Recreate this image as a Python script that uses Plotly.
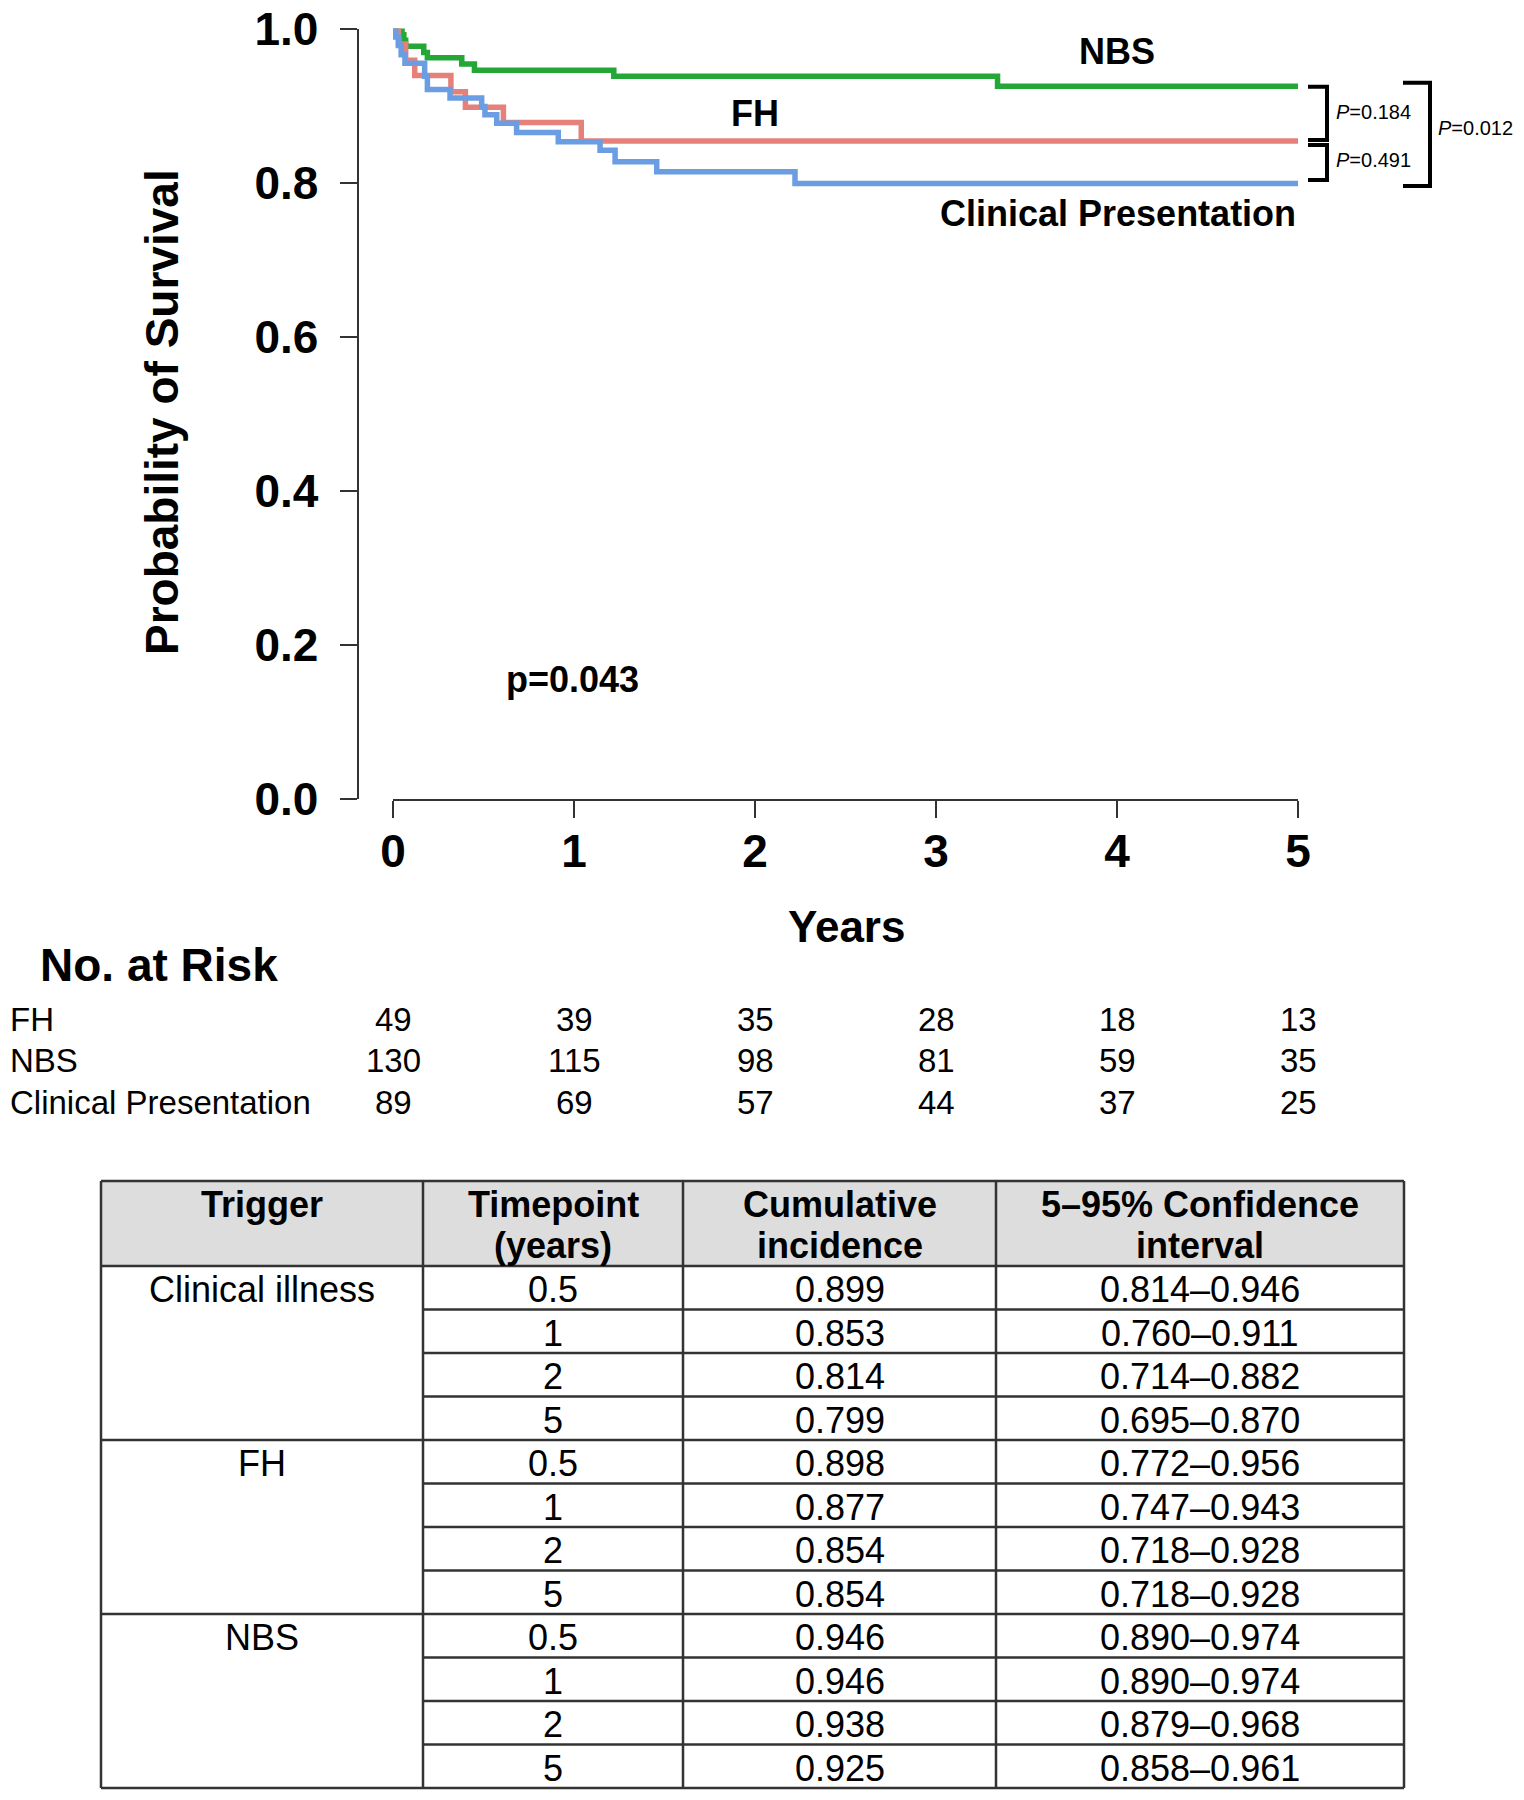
import plotly.graph_objects as go

W, H = 1524, 1800
FONT = "Liberation Sans, Arial, Helvetica, sans-serif"

# ---------------- Kaplan-Meier step data ----------------
nbs_t = [0, 0.05, 0.06, 0.07, 0.17, 0.19, 0.38, 0.45, 1.22, 3.34, 5.0]
nbs_s = [1.0, 0.992, 0.985, 0.977, 0.969, 0.962, 0.954, 0.946, 0.938, 0.925, 0.925]

fh_t = [0, 0.03, 0.07, 0.12, 0.32, 0.40, 0.61, 1.04, 5.0]
fh_s = [1.0, 0.980, 0.959, 0.939, 0.918, 0.898, 0.878, 0.854, 0.854]

cp_t = [0, 0.015, 0.03, 0.045, 0.066, 0.175, 0.19, 0.315, 0.49, 0.508, 0.573,
        0.683, 0.913, 1.144, 1.227, 1.457, 2.221, 5.0]
cp_s = [1.0, 0.989, 0.978, 0.966, 0.955, 0.938, 0.921, 0.910, 0.899, 0.888, 0.877,
        0.865, 0.853, 0.842, 0.827, 0.814, 0.799, 0.799]

x_ticks = [0, 1, 2, 3, 4, 5]
y_ticks = [0.0, 0.2, 0.4, 0.6, 0.8, 1.0]
y_tick_labels = ["0.0", "0.2", "0.4", "0.6", "0.8", "1.0"]

# ---------------- Numbers at risk ----------------
risk_groups = ["FH", "NBS", "Clinical Presentation"]
risk_fh = [49, 39, 35, 28, 18, 13]
risk_nbs = [130, 115, 98, 81, 59, 35]
risk_cp = [89, 69, 57, 44, 37, 25]

# ---------------- Summary table ----------------
tbl_header1 = ["Trigger", "Timepoint", "Cumulative", "5\u201395% Confidence"]
tbl_header2 = ["", "(years)", "incidence", "interval"]
tbl_triggers = ["Clinical illness", "FH", "NBS"]
tbl_timepoints = ["0.5", "1", "2", "5"]
tbl_incidence = ["0.899", "0.853", "0.814", "0.799",
                 "0.898", "0.877", "0.854", "0.854",
                 "0.946", "0.946", "0.938", "0.925"]
tbl_ci = ["0.814\u20130.946", "0.760\u20130.911", "0.714\u20130.882", "0.695\u20130.870",
          "0.772\u20130.956", "0.747\u20130.943", "0.718\u20130.928", "0.718\u20130.928",
          "0.890\u20130.974", "0.890\u20130.974", "0.879\u20130.968", "0.858\u20130.961"]

GREEN = "#25a737"
RED = "#e5817a"
BLUE = "#6b9de2"


def px(x):
    return x / W


def py(y):
    return 1 - y / H


# plot geometry in pixels
X0, X5 = 393, 1298
Y1, Y0 = 28.6, 798.8
YAXIS_X = 357.6

fig = go.Figure()
for t, s, c, name in [(nbs_t, nbs_s, GREEN, "NBS"), (fh_t, fh_s, RED, "FH"),
                      (cp_t, cp_s, BLUE, "Clinical Presentation")]:
    fig.add_trace(go.Scatter(x=t, y=s, mode="lines", line=dict(color=c, width=5.5, shape="hv"),
                             name=name, showlegend=False, cliponaxis=False))

ann = []
# curve labels
lab_font = dict(family=FONT, size=36, color="black", weight="bold")
ann.append(dict(x=4.0, y=0.970, xref="x", yref="y", text="NBS", font=lab_font))
ann.append(dict(x=2.0, y=0.890, xref="x", yref="y", text="FH", font=lab_font))
ann.append(dict(x=5.0, y=0.7605, xref="x", yref="y", text="Clinical Presentation", xanchor="right",
                font=lab_font))
ann.append(dict(x=0.994, y=0.1545, xref="x", yref="y", text="p=0.043", font=lab_font))

# axis titles
ann.append(dict(x=px(162), y=py(412), xref="paper", yref="paper", text="Probability of Survival",
                textangle=-90, font=dict(family=FONT, size=46, color="black", weight="bold")))
ann.append(dict(x=px(846), y=py(926), xref="paper", yref="paper", text="Years",
                font=dict(family=FONT, size=44, color="black", weight="bold")))

# numbers at risk
ann.append(dict(x=px(38), y=py(965), xref="paper", yref="paper", text="No. at Risk", xanchor="left",
                font=dict(family=FONT, size=46, color="black", weight="bold")))
risk_font = dict(family=FONT, size=33, color="black")
risk_rows_y = [1019, 1060, 1102]
for g, vals, ry in zip(risk_groups, [risk_fh, risk_nbs, risk_cp], risk_rows_y):
    ann.append(dict(x=px(8), y=py(ry), xref="paper", yref="paper", text=g, xanchor="left",
                    font=risk_font))
    for xt, v in zip(x_ticks, vals):
        ann.append(dict(x=xt, y=py(ry), xref="x", yref="paper", text=str(v), font=risk_font))

# brackets with p-values
shapes = []
bk = dict(color="black", width=4)


def bracket(xl, xv, yt, yb):
    path = f"M {px(xl)},{py(yt)} L {px(xv)},{py(yt)} L {px(xv)},{py(yb)} L {px(xl)},{py(yb)}"
    shapes.append(dict(type="path", path=path, xref="paper", yref="paper", line=bk))


bracket(1308, 1327, 86.7, 140)
bracket(1308, 1327, 145, 180)
bracket(1403, 1430, 82.7, 186)
pfont = dict(family=FONT, size=20, color="black")
ann.append(dict(x=px(1334), y=py(111.7), xref="paper", yref="paper", text="<i>P</i>=0.184",
                xanchor="left", font=pfont))
ann.append(dict(x=px(1334), y=py(160), xref="paper", yref="paper", text="<i>P</i>=0.491",
                xanchor="left", font=pfont))
ann.append(dict(x=px(1436), y=py(128.3), xref="paper", yref="paper", text="<i>P</i>=0.012",
                xanchor="left", font=pfont))

# ---------------- table drawn with shapes ----------------
TX = [101, 423, 683, 996, 1404]
T_TOP, T_HEAD = 1181, 1266
ROW_H = 43.5
n_rows = len(tbl_incidence)
T_BOT = T_HEAD + n_rows * ROW_H
lc = dict(color="#333333", width=2.5)

shapes.append(dict(type="rect", xref="paper", yref="paper", x0=px(TX[0]), x1=px(TX[-1]),
                   y0=py(T_TOP), y1=py(T_HEAD), fillcolor="#dddddd", line=dict(width=0), layer="below"))
for yy in [T_TOP, T_HEAD, T_BOT]:
    shapes.append(dict(type="line", xref="paper", yref="paper", x0=px(TX[0]), x1=px(TX[-1]),
                       y0=py(yy), y1=py(yy), line=lc))
for i in range(1, n_rows):
    yy = T_HEAD + i * ROW_H
    xs = TX[0] if i % len(tbl_timepoints) == 0 else TX[1]
    shapes.append(dict(type="line", xref="paper", yref="paper", x0=px(xs), x1=px(TX[-1]),
                       y0=py(yy), y1=py(yy), line=lc))
for xx in TX:
    shapes.append(dict(type="line", xref="paper", yref="paper", x0=px(xx), x1=px(xx),
                       y0=py(T_TOP), y1=py(T_BOT), line=lc))

hfont = dict(family=FONT, size=36, color="black", weight="bold")
cfont = dict(family=FONT, size=36, color="black")
centers = [(TX[i] + TX[i + 1]) / 2 for i in range(4)]
for c, h1, h2 in zip(centers, tbl_header1, tbl_header2):
    ann.append(dict(x=px(c), y=py(1204), xref="paper", yref="paper", text=h1, font=hfont))
    if h2:
        ann.append(dict(x=px(c), y=py(1245), xref="paper", yref="paper", text=h2, font=hfont))
for i in range(n_rows):
    ry = T_HEAD + (i + 0.5) * ROW_H + 2
    if i % len(tbl_timepoints) == 0:
        ann.append(dict(x=px(centers[0]), y=py(ry), xref="paper", yref="paper",
                        text=tbl_triggers[i // len(tbl_timepoints)], font=cfont))
    ann.append(dict(x=px(centers[1]), y=py(ry), xref="paper", yref="paper",
                    text=tbl_timepoints[i % len(tbl_timepoints)], font=cfont))
    ann.append(dict(x=px(centers[2]), y=py(ry), xref="paper", yref="paper",
                    text=tbl_incidence[i], font=cfont))
    ann.append(dict(x=px(centers[3]), y=py(ry), xref="paper", yref="paper",
                    text=tbl_ci[i], font=cfont))

for a in ann:
    a.setdefault("xanchor", "center")
    a.setdefault("yanchor", "middle")
    a.setdefault("showarrow", False)

tickfont = dict(family=FONT, size=46, color="black", weight="bold")
fig.update_layout(
    width=W, height=H,
    margin=dict(l=0, r=0, t=0, b=0, pad=0, autoexpand=False),
    paper_bgcolor="white", plot_bgcolor="white",
    xaxis=dict(domain=[px(X0), px(X5)], range=[0, 5], tickvals=x_ticks, ticktext=[str(v) for v in x_ticks],
               showline=True, linecolor="#333333", linewidth=2, ticks="outside", ticklen=17,
               tickwidth=2, tickcolor="#333333", showgrid=False, zeroline=False, tickfont=tickfont,
               ticklabelstandoff=-6, fixedrange=True, automargin=False),
    yaxis=dict(domain=[py(Y0), py(Y1)], range=[0, 1], tickvals=y_ticks, ticktext=y_tick_labels,
               anchor="free", position=px(YAXIS_X),
               showline=True, linecolor="#333333", linewidth=2, ticks="outside", ticklen=17,
               tickwidth=2, tickcolor="#333333", showgrid=False, zeroline=False, tickfont=tickfont,
               ticklabelstandoff=12, fixedrange=True, automargin=False),
    annotations=ann,
    shapes=shapes,
)

fig.write_html(
    "out.html",
    config={"displayModeBar": False},
    post_script="document.body.style.margin='0';document.body.style.overflow='hidden';",
)
